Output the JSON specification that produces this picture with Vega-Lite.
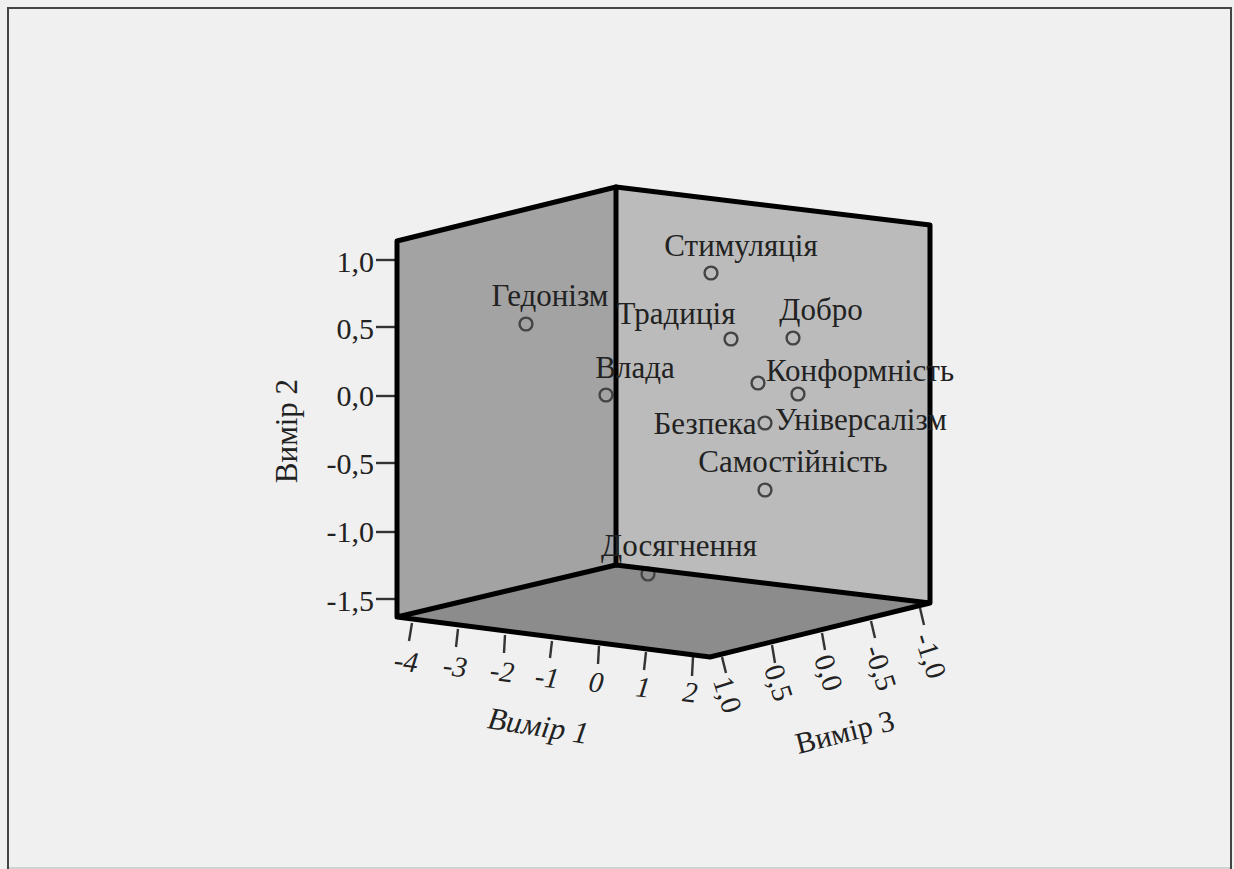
{
"$schema":"https://vega.github.io/schema/vega-lite/v6.json",
"width":1234,"height":869,"padding":0,"autosize":{"type":"none"},
"background":"#f0f0f0",
"config":{"view":{"stroke":null},"text":{"font":"Liberation Serif"}},
"datasets":{
"faces":[
{"face":"left","x":397,"y":241,"y2":617},{"face":"left","x":616,"y":187,"y2":565},
{"face":"right","x":616,"y":187,"y2":565},{"face":"right","x":930,"y":225,"y2":603},
{"face":"floor","x":397,"y":617,"y2":617},{"face":"floor","x":616,"y":565,"y2":645},{"face":"floor","x":710,"y":576,"y2":657},{"face":"floor","x":930,"y":603,"y2":603}
],
"frame":[
{"s":"a","i":1,"x":397,"y":617},{"s":"a","i":2,"x":397,"y":241},{"s":"a","i":3,"x":616,"y":187},{"s":"a","i":4,"x":930,"y":225},{"s":"a","i":5,"x":930,"y":603},{"s":"a","i":6,"x":710,"y":657},{"s":"a","i":7,"x":397,"y":617},{"s":"a","i":8,"x":616,"y":565},{"s":"a","i":9,"x":930,"y":603},
{"s":"b","i":1,"x":616,"y":187},{"s":"b","i":2,"x":616,"y":565}
],
"ticks":[
{"s":"y1","i":1,"x":376,"y":260},{"s":"y1","i":2,"x":397,"y":260},
{"s":"y2","i":1,"x":376,"y":327},{"s":"y2","i":2,"x":397,"y":327},
{"s":"y3","i":1,"x":376,"y":396},{"s":"y3","i":2,"x":397,"y":396},
{"s":"y4","i":1,"x":376,"y":463},{"s":"y4","i":2,"x":397,"y":463},
{"s":"y5","i":1,"x":376,"y":532},{"s":"y5","i":2,"x":397,"y":532},
{"s":"y6","i":1,"x":376,"y":599},{"s":"y6","i":2,"x":397,"y":599},
{"s":"x1","i":1,"x":412,"y":623},{"s":"x1","i":2,"x":409,"y":641},
{"s":"x2","i":1,"x":458,"y":629},{"s":"x2","i":2,"x":456,"y":647},
{"s":"x3","i":1,"x":505,"y":635},{"s":"x3","i":2,"x":504,"y":653},
{"s":"x4","i":1,"x":552,"y":641},{"s":"x4","i":2,"x":550,"y":658},
{"s":"x5","i":1,"x":599,"y":646},{"s":"x5","i":2,"x":598,"y":664},
{"s":"x6","i":1,"x":646,"y":652},{"s":"x6","i":2,"x":644,"y":670},
{"s":"x7","i":1,"x":693,"y":657},{"s":"x7","i":2,"x":692,"y":676},
{"s":"z1","i":1,"x":722,"y":657},{"s":"z1","i":2,"x":726,"y":673},
{"s":"z2","i":1,"x":772,"y":645},{"s":"z2","i":2,"x":775,"y":663},
{"s":"z3","i":1,"x":822,"y":633},{"s":"z3","i":2,"x":825,"y":650},
{"s":"z4","i":1,"x":871,"y":621},{"s":"z4","i":2,"x":875,"y":638},
{"s":"z5","i":1,"x":920,"y":608},{"s":"z5","i":2,"x":924,"y":625}
],
"border":[
{"i":1,"x":8,"y":869},{"i":2,"x":8,"y":8},{"i":3,"x":1231,"y":8},{"i":4,"x":1231,"y":869}
],
"points":[
{"x":526,"y":324},{"x":606,"y":395},{"x":711,"y":273},{"x":731,"y":339},{"x":793,"y":338},{"x":758,"y":383},{"x":798,"y":394},{"x":765,"y":423},{"x":765,"y":490},{"x":648,"y":574}
],
"labels":[
{"x":741,"y":256,"t":"Стимуляція"},{"x":550,"y":306,"t":"Гедонізм"},{"x":676,"y":324,"t":"Традиція"},{"x":821,"y":320,"t":"Добро"},{"x":635,"y":378,"t":"Влада"},{"x":860,"y":381,"t":"Конформність"},{"x":705,"y":434,"t":"Безпека"},{"x":861,"y":430,"t":"Універсалізм"},{"x":793,"y":472,"t":"Самостійність"},{"x":679,"y":556,"t":"Досягнення"}
],
"ylabels":[
{"x":374,"y":263,"t":"1,0"},{"x":374,"y":330,"t":"0,5"},{"x":374,"y":397,"t":"0,0"},{"x":374,"y":465,"t":"-0,5"},{"x":374,"y":533,"t":"-1,0"},{"x":374,"y":602,"t":"-1,5"}
],
"xlabels":[
{"x":406,"y":662,"t":"-4"},{"x":455,"y":667,"t":"-3"},{"x":502,"y":672,"t":"-2"},{"x":547,"y":678,"t":"-1"},{"x":596,"y":683,"t":"0"},{"x":643,"y":688,"t":"1"},{"x":690,"y":693,"t":"2"}
],
"zlabels":[
{"x":727,"y":695,"t":"1,0"},{"x":778,"y":683,"t":"0,5"},{"x":828,"y":673,"t":"0,0"},{"x":880,"y":668,"t":"-0,5"},{"x":930,"y":656,"t":"-1,0"}
]
},
"encoding":{
"x":{"field":"x","type":"quantitative","axis":null,"scale":{"domain":[0,1234],"nice":false,"zero":false}},
"y":{"field":"y","type":"quantitative","axis":null,"scale":{"domain":[869,0],"nice":false,"zero":false}}
},
"layer":[
{"data":{"values":[{"x":8,"y":868},{"x":1231,"y":868}]},"mark":{"type":"line","stroke":"#c8c8c8","strokeWidth":1.5}},
{"data":{"name":"border"},"mark":{"type":"line","stroke":"#444444","strokeWidth":2},"encoding":{"order":{"field":"i"}}},
{"data":{"name":"faces"},"transform":[{"filter":"datum.face=='left'"}],"mark":{"type":"area","fill":"#a3a3a3"},"encoding":{"y2":{"field":"y2"}}},
{"data":{"name":"faces"},"transform":[{"filter":"datum.face=='right'"}],"mark":{"type":"area","fill":"#bbbbbb"},"encoding":{"y2":{"field":"y2"}}},
{"data":{"name":"faces"},"transform":[{"filter":"datum.face=='floor'"}],"mark":{"type":"area","fill":"#8c8c8c"},"encoding":{"y2":{"field":"y2"}}},
{"data":{"name":"ticks"},"mark":{"type":"line","stroke":"#333333","strokeWidth":2.4},"encoding":{"detail":{"field":"s"},"order":{"field":"i"}}},
{"data":{"name":"points"},"mark":{"type":"point","shape":"circle","size":165,"filled":false,"stroke":"#444444","strokeWidth":2.4,"opacity":1}},
{"data":{"name":"frame"},"mark":{"type":"line","stroke":"#000000","strokeWidth":5,"strokeCap":"round","strokeJoin":"round"},"encoding":{"detail":{"field":"s"},"order":{"field":"i"}}},
{"data":{"name":"labels"},"mark":{"type":"text","fontSize":31,"align":"center","baseline":"alphabetic","fill":"#222222"},"encoding":{"text":{"field":"t"}}},
{"data":{"name":"ylabels"},"mark":{"type":"text","fontSize":30,"align":"right","baseline":"middle","fill":"#222222"},"encoding":{"text":{"field":"t"}}},
{"data":{"name":"xlabels"},"mark":{"type":"text","fontSize":29,"fontStyle":"italic","align":"center","baseline":"middle","angle":7,"fill":"#222222"},"encoding":{"text":{"field":"t"}}},
{"data":{"name":"zlabels"},"mark":{"type":"text","fontSize":29,"align":"center","baseline":"middle","angle":72,"fill":"#222222"},"encoding":{"text":{"field":"t"}}},
{"data":{"values":[{"x":538,"y":727,"t":"Вимір 1"}]},"mark":{"type":"text","fontSize":31,"fontStyle":"italic","align":"center","baseline":"middle","angle":9,"fill":"#222222"},"encoding":{"text":{"field":"t"}}},
{"data":{"values":[{"x":288,"y":431,"t":"Вимір 2"}]},"mark":{"type":"text","fontSize":31,"align":"center","baseline":"middle","angle":270,"fill":"#222222"},"encoding":{"text":{"field":"t"}}},
{"data":{"values":[{"x":845,"y":733,"t":"Вимір 3"}]},"mark":{"type":"text","fontSize":30,"align":"center","baseline":"middle","angle":346,"fill":"#222222"},"encoding":{"text":{"field":"t"}}}
]
}
